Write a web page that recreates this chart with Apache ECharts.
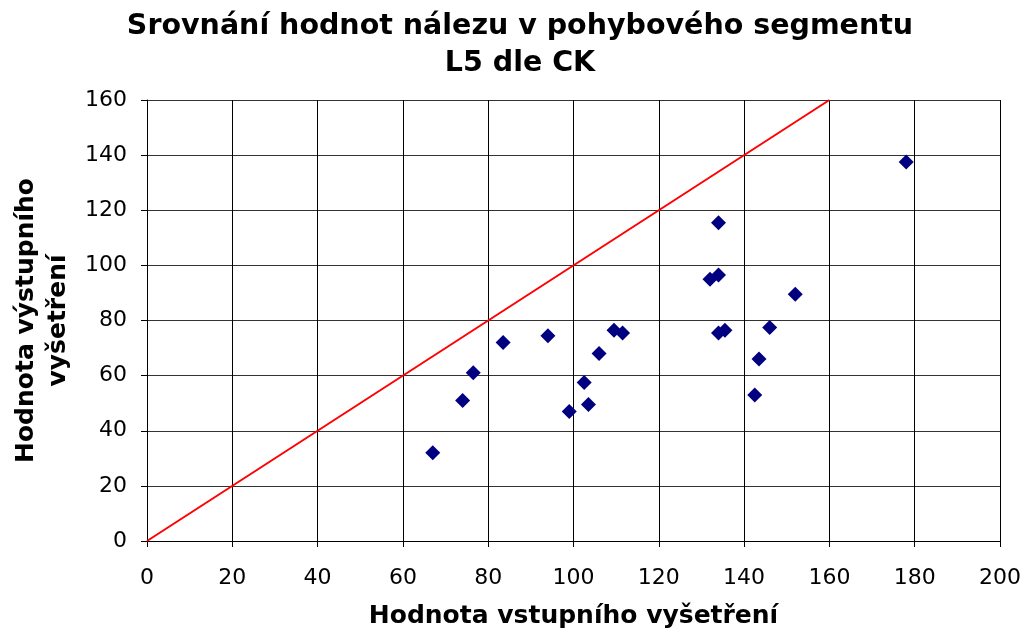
<!DOCTYPE html>
<html>
<head>
<meta charset="utf-8">
<script src="https://cdn.jsdelivr.net/npm/echarts@6/dist/echarts.min.js"></script>
<style>
  html, body { margin: 0; padding: 0; background: #fff; }
  #chart { width: 1027px; height: 635px; }
</style>
</head>
<body>
<div id="chart"></div>
<script>
// Entry value (x) vs. exit value (y) for each patient
const entryValues = [67, 74, 76.5, 83.5, 94, 99, 102.5, 103.5, 106, 109.5, 111.5,
                     132, 134, 134, 134, 135.5, 146, 143.5, 142.5, 152, 178];
const exitValues  = [32, 51, 61, 72, 74.5, 47, 57.5, 49.5, 68, 76.5, 75.5,
                     95, 96.5, 115.5, 75.5, 76.5, 77.5, 66, 53, 89.5, 137.5];
// Identity reference line y = x
const identityLine = [[0, 0], [160, 160]];

const titleText = 'Srovnání hodnot nálezu v pohybového segmentu\nL5 dle CK';
const xAxisName = 'Hodnota vstupního vyšetření';
const yAxisName = 'Hodnota výstupního\nvyšetření';

const points = entryValues.map((x, i) => [x, exitValues[i]]);

const FONT = 'DejaVu Sans';
const chart = echarts.init(document.getElementById('chart'));
chart.setOption({
  backgroundColor: '#ffffff',
  animation: false,
  title: {
    text: titleText,
    left: 515,
    textAlign: 'center',
    top: 3,
    textStyle: { fontFamily: FONT, fontWeight: 'bold', fontSize: 28.5, lineHeight: 37, color: '#000' }
  },
  grid: { left: 147, right: 27, top: 100, bottom: 94, containLabel: false, outerBoundsMode: 'none' },
  xAxis: {
    type: 'value', min: 0, max: 200, interval: 20,
    name: xAxisName, nameLocation: 'middle', nameGap: 63,
    nameTextStyle: { fontFamily: FONT, fontWeight: 'bold', fontSize: 25, color: '#000' },
    axisLine: { show: true, onZero: false, lineStyle: { color: '#000', width: 1 } },
    axisTick: { show: true, length: 6, lineStyle: { color: '#000' } },
    axisLabel: { fontFamily: FONT, fontSize: 22, color: '#000', margin: 26 },
    splitLine: { show: true, lineStyle: { color: '#000', width: 1 } }
  },
  yAxis: {
    type: 'value', min: 0, max: 160, interval: 20,
    name: yAxisName, nameLocation: 'middle', nameGap: 67, nameRotate: 90,
    nameTextStyle: { fontFamily: FONT, fontWeight: 'bold', fontSize: 25, lineHeight: 32, color: '#000' },
    axisLine: { show: true, onZero: false, lineStyle: { color: '#000', width: 1 } },
    axisTick: { show: true, length: 6, lineStyle: { color: '#000' } },
    axisLabel: { fontFamily: FONT, fontSize: 22, color: '#000', margin: 20 },
    splitLine: { show: true, lineStyle: { color: '#333', width: 1 } }
  },
  series: [
    {
      type: 'line',
      data: identityLine,
      symbol: 'none',
      lineStyle: { color: '#ff0000', width: 2 },
      z: 3
    },
    {
      type: 'scatter',
      data: points,
      symbol: 'diamond',
      symbolSize: [15, 15],
      itemStyle: { color: '#000080', opacity: 1 },
      z: 4
    }
  ]
});
</script>
</body>
</html>
